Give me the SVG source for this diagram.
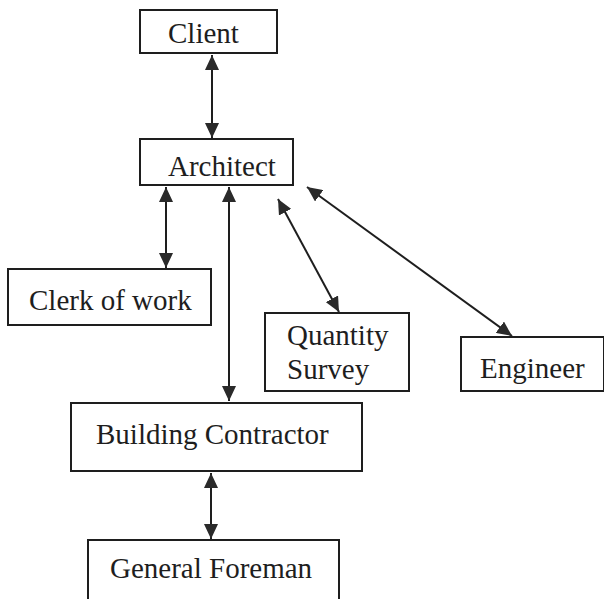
<svg xmlns="http://www.w3.org/2000/svg" width="604" height="599" viewBox="0 0 604 599">
<style>
.box{fill:#fff;stroke:#1e1e1e;stroke-width:2}
.lbl{font-family:"Liberation Serif","Times New Roman",serif;font-size:29px;fill:#1e1e1e}
.con{stroke:#1e1e1e;stroke-width:2;fill:none;marker-start:url(#ah);marker-end:url(#ah)}
</style>
<defs>
<marker id="ah" markerUnits="userSpaceOnUse" markerWidth="16" markerHeight="14" refX="15" refY="7" orient="auto-start-reverse">
<path d="M0,0 L15,7 L0,14 z" fill="#2a2a2a"/>
</marker>
</defs>
<rect width="604" height="599" fill="#fff"/>
<g id="connectors">
<line class="con" x1="212" y1="55" x2="212" y2="138"/>
<line class="con" x1="166" y1="187" x2="166" y2="268"/>
<line class="con" x1="229" y1="187" x2="229" y2="401"/>
<line class="con" x1="278" y1="199" x2="339" y2="312"/>
<line class="con" x1="307" y1="187" x2="512" y2="336"/>
<line class="con" x1="211" y1="473" x2="211" y2="539"/>
</g>
<g id="client"><rect class="box" x="140" y="10" width="137" height="43"/><text class="lbl" x="168" y="43">Client</text></g>
<g id="architect"><rect class="box" x="140" y="139" width="153" height="46"/><text class="lbl" x="168" y="176">Architect</text></g>
<g id="clerk"><rect class="box" x="8" y="269" width="203" height="56"/><text class="lbl" x="29" y="310">Clerk of work</text></g>
<g id="quantity"><rect class="box" x="265" y="313" width="144" height="78"/><text class="lbl" x="287" y="345">Quantity</text><text class="lbl" x="287" y="379">Survey</text></g>
<g id="engineer"><rect class="box" x="461" y="337" width="143" height="54"/><text class="lbl" x="480" y="378">Engineer</text></g>
<g id="contractor"><rect class="box" x="71" y="403" width="291" height="68"/><text class="lbl" x="96" y="444">Building Contractor</text></g>
<g id="foreman"><rect class="box" x="88" y="540" width="251" height="70"/><text class="lbl" x="110" y="578">General Foreman</text></g>
</svg>
